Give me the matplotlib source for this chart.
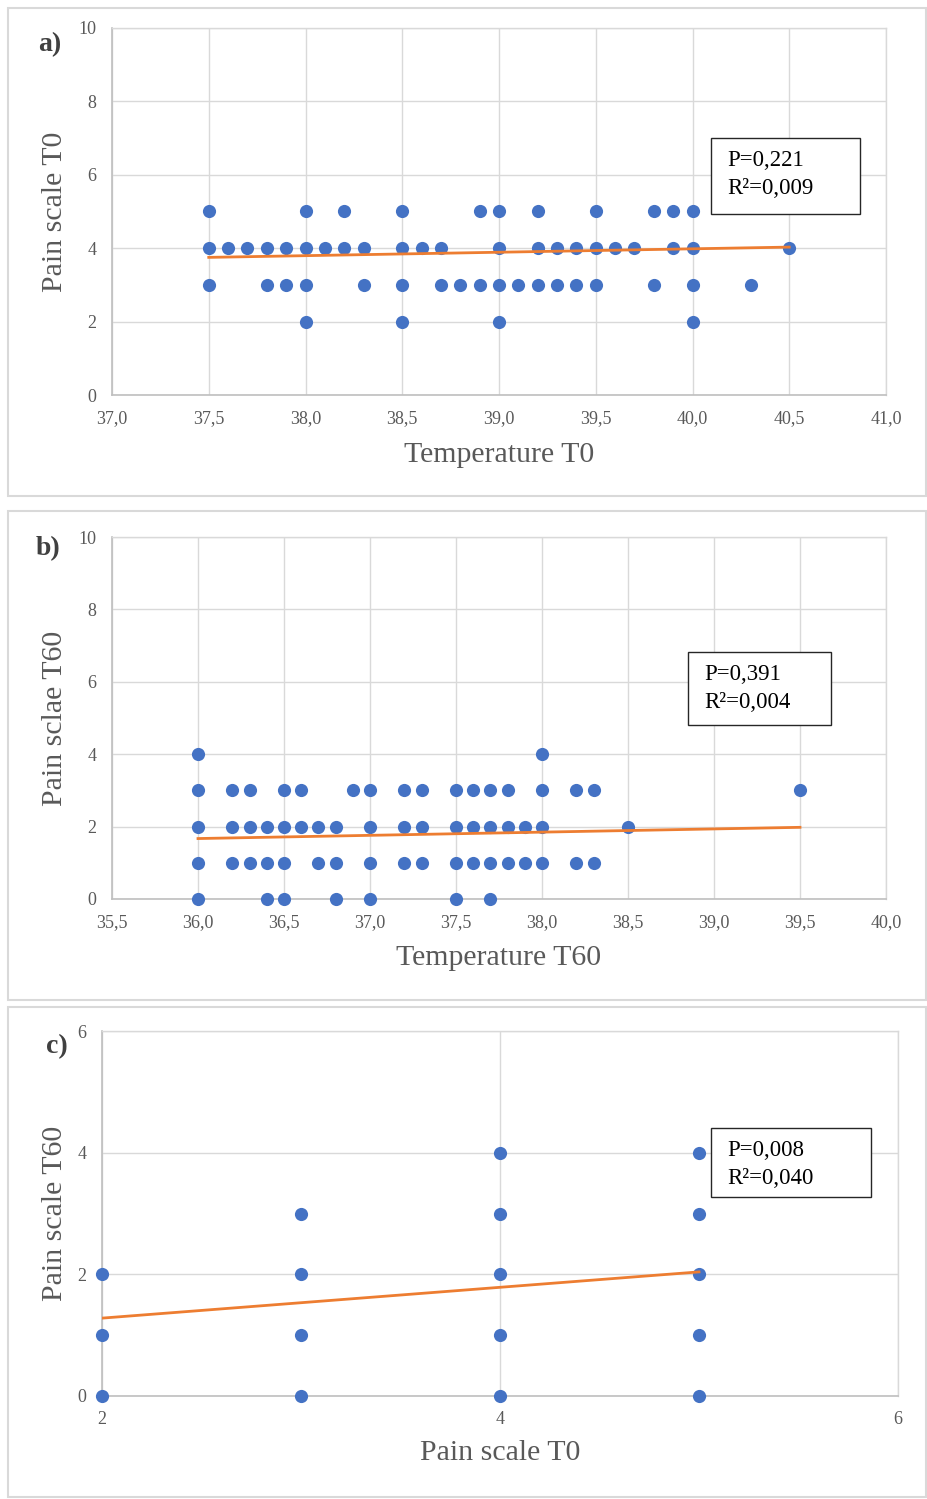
import numpy as np
import matplotlib as mlt
mlt.use('Agg')
import matplotlib.pyplot as plt
import matplotlib.patches as mpatches
from matplotlib import rc

rc('font', **{'family': 'serif', 'serif': ['Liberation Serif', 'DejaVu Serif'], 'size': 13})

W, H = 928, 1499

colorDot = '#4472C4'
colorTrend = '#ED7D31'
colorGrid = '#d9d9d9'
colorAxis = '#bfbfbf'
colorText = '#595959'

# ---- panel a: Temperature T0 vs Pain scale T0
a_x5 = [37.5, 38.0, 38.2, 38.5, 38.9, 39.0, 39.2, 39.5, 39.8, 39.9, 40.0]
a_x4 = [37.5, 37.6, 37.7, 37.8, 37.9, 38.0, 38.1, 38.2, 38.3, 38.5, 38.6, 38.7,
        39.0, 39.2, 39.3, 39.4, 39.5, 39.6, 39.7, 39.9, 40.0, 40.5]
a_x3 = [37.5, 37.8, 37.9, 38.0, 38.3, 38.5, 38.7, 38.8, 38.9, 39.0, 39.1, 39.2,
        39.3, 39.4, 39.5, 39.8, 40.0, 40.3]
a_x2 = [38.0, 38.5, 39.0, 40.0]
a_trend_x = [37.5, 40.5]
a_trend_y = [3.75, 4.03]
a_xticks = [37.0, 37.5, 38.0, 38.5, 39.0, 39.5, 40.0, 40.5, 41.0]
a_yticks = [0, 2, 4, 6, 8, 10]

# ---- panel b: Temperature T60 vs Pain scale T60
b_x4 = [36.0, 38.0]
b_x3 = [36.0, 36.2, 36.3, 36.5, 36.6, 36.9, 37.0, 37.2, 37.3,
        37.5, 37.6, 37.7, 37.8, 38.0, 38.2, 38.3, 39.5]
b_x2 = [36.0, 36.2, 36.3, 36.4, 36.5, 36.6, 36.7, 36.8, 37.0, 37.2, 37.3,
        37.5, 37.6, 37.7, 37.8, 37.9, 38.0, 38.5]
b_x1 = [36.0, 36.2, 36.3, 36.4, 36.5, 36.7, 36.8, 37.0, 37.2, 37.3,
        37.5, 37.6, 37.7, 37.8, 37.9, 38.0, 38.2, 38.3]
b_x0 = [36.0, 36.4, 36.5, 36.8, 37.0, 37.5, 37.7]
b_trend_x = [36.0, 39.5]
b_trend_y = [1.67, 1.98]
b_xticks = [35.5, 36.0, 36.5, 37.0, 37.5, 38.0, 38.5, 39.0, 39.5, 40.0]
b_yticks = [0, 2, 4, 6, 8, 10]

# ---- panel c: Pain scale T0 vs Pain scale T60
c_x = [2, 2, 2, 3, 3, 3, 3, 4, 4, 4, 4, 4, 5, 5, 5, 5, 5]
c_y = [2, 1, 0, 3, 2, 1, 0, 4, 3, 2, 1, 0, 4, 3, 2, 1, 0]
c_trend_x = [2, 5]
c_trend_y = [1.28, 2.04]
c_xticks = [2, 4, 6]
c_yticks = [0, 2, 4, 6]


def fx(px):
    return px / W


def fy(py):
    return 1 - py / H


def addAxes(fig, left, top, right, bottom):
    return fig.add_axes([fx(left), fy(bottom), (right - left) / W, (bottom - top) / H])


def setAxis(axes, xticks, yticks, decimals):
    axes.set_xlim(xticks[0], xticks[-1])
    axes.set_ylim(yticks[0], yticks[-1])
    axes.set_xticks(xticks)
    axes.set_yticks(yticks)
    if decimals:
        axes.set_xticklabels([('%.1f' % v).replace('.', ',') for v in xticks])
    else:
        axes.set_xticklabels([str(v) for v in xticks])
    axes.set_yticklabels([str(v) for v in yticks])
    for s in ['left', 'bottom']:
        axes.spines[s].set_color(colorAxis)
        axes.spines[s].set_linewidth(1.2)
    for s in ['top', 'right']:
        axes.spines[s].set_color(colorGrid)
        axes.spines[s].set_linewidth(1.0)
    axes.tick_params(length=0, pad=11, labelsize=13, colors=colorText)
    axes.grid(True, color=colorGrid, linewidth=1.0)
    axes.set_axisbelow(True)


def scatterRows(axes, rows):
    for xs, y in rows:
        axes.scatter(xs, [y] * len(xs), s=90, color=colorDot, zorder=3, clip_on=False, linewidths=0)


def statBox(fig, left, top, right, bottom, p, r2):
    fig.patches.append(mpatches.Rectangle((fx(left), fy(bottom)), (right - left) / W, (bottom - top) / H,
                                          transform=fig.transFigure, facecolor='white',
                                          edgecolor='#262626', linewidth=1.0, zorder=5))
    fig.text(fx(left + 16), fy(top + 23), 'P=' + p, fontsize=16.5, color='black', va='center', zorder=6)
    fig.text(fx(left + 16), fy(top + 50), 'R\u00b2=' + r2, fontsize=16.5, color='black', va='center', zorder=6)


def panelFrame(fig, left, top, right, bottom):
    fig.patches.append(mpatches.Rectangle((fx(left), fy(bottom)), (right - left) / W, (bottom - top) / H,
                                          transform=fig.transFigure, facecolor='none',
                                          edgecolor=colorGrid, linewidth=1.5))


fig = plt.figure(figsize=(W / 100, H / 100), dpi=100)
fig.patch.set_facecolor('white')

panelFrame(fig, 8, 8, 926, 496)
panelFrame(fig, 8, 511, 926, 1000)
panelFrame(fig, 8, 1007, 926, 1497)

# a)
axA = addAxes(fig, 112, 28, 886, 395)
setAxis(axA, a_xticks, a_yticks, True)
scatterRows(axA, [(a_x5, 5), (a_x4, 4), (a_x3, 3), (a_x2, 2)])
axA.plot(a_trend_x, a_trend_y, color=colorTrend, linewidth=2.0, zorder=4)
statBox(fig, 711, 138, 860, 214, '0,221', '0,009')
fig.text(fx(499), fy(455), 'Temperature T0', fontsize=21.5, color=colorText, ha='center', va='center')
fig.text(fx(55), fy(212), 'Pain scale T0', fontsize=21.5, color=colorText, ha='center', va='center', rotation=90)
fig.text(fx(50), fy(45), 'a)', fontsize=20, fontweight='bold', color='#404040', ha='center', va='center')

# b)
axB = addAxes(fig, 112, 537, 886, 899)
setAxis(axB, b_xticks, b_yticks, True)
scatterRows(axB, [(b_x4, 4), (b_x3, 3), (b_x2, 2), (b_x1, 1), (b_x0, 0)])
axB.plot(b_trend_x, b_trend_y, color=colorTrend, linewidth=2.0, zorder=4)
statBox(fig, 688, 652, 831, 725, '0,391', '0,004')
fig.text(fx(499), fy(958), 'Temperature T60', fontsize=21.5, color=colorText, ha='center', va='center')
fig.text(fx(55), fy(718), 'Pain sclae T60', fontsize=21.5, color=colorText, ha='center', va='center', rotation=90)
fig.text(fx(48), fy(549), 'b)', fontsize=20, fontweight='bold', color='#404040', ha='center', va='center')

# c)
axC = addAxes(fig, 102, 1031, 898, 1396)
setAxis(axC, c_xticks, c_yticks, False)
axC.scatter(c_x, c_y, s=90, color=colorDot, zorder=3, clip_on=False, linewidths=0)
axC.plot(c_trend_x, c_trend_y, color=colorTrend, linewidth=2.0, zorder=4)
statBox(fig, 711, 1128, 871, 1197, '0,008', '0,040')
fig.text(fx(500), fy(1453), 'Pain scale T0', fontsize=21.5, color=colorText, ha='center', va='center')
fig.text(fx(55), fy(1213), 'Pain scale T60', fontsize=21.5, color=colorText, ha='center', va='center', rotation=90)
fig.text(fx(57), fy(1047), 'c)', fontsize=20, fontweight='bold', color='#404040', ha='center', va='center')

plt.savefig('out.png', dpi=100, facecolor='white')
